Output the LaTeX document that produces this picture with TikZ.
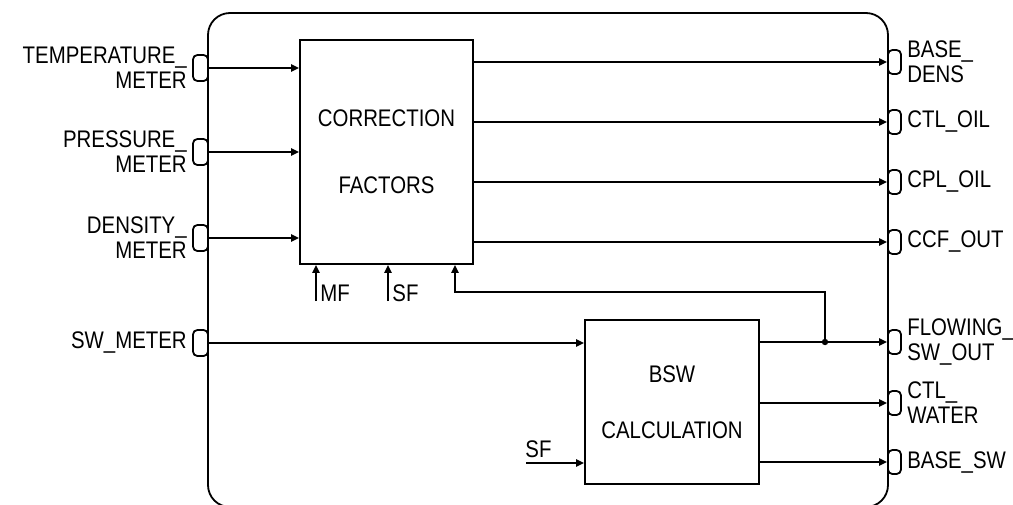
\documentclass[tikz,border=0pt]{standalone}
\usepackage{fontspec}
\setmainfont[FakeStretch=0.85]{Liberation Sans}
\usetikzlibrary{arrows.meta,positioning}

\begin{document}
\begin{tikzpicture}[x=0.5pt, y=-0.5pt, font=\fontsize{12}{12.5}\selectfont,
        sig/.style={line width=0.9pt, -{Triangle[length=4pt, width=3.6pt]}},
        block/.style={draw, line width=0.9pt, align=center, inner sep=0pt},
        inport/.style={draw, line width=0.9pt, rounded corners=2.2pt, inner sep=0pt,
            minimum width=7.5pt, minimum height=13pt},
        outport/.style={inport, minimum width=6.5pt, minimum height=12pt},
        portlbl/.style={inner sep=1.5pt}]
        \useasboundingbox (0,0) rectangle (1013,504);
        \fill[white] (0,0) rectangle (1013,504);
        \clip (0,0) rectangle (1013,504);

        \node[draw, line width=0.9pt, rounded corners=11pt, inner sep=0pt,
            minimum width=340pt, minimum height=247pt] (sys) at (548,260) {};

        \node[block, minimum width=86.5pt, minimum height=112pt] (cf) at (386.5,152)
            {CORRECTION\\[21pt]FACTORS};
        \node[block, minimum width=87pt, minimum height=82pt] (bsw) at (672,402)
            {BSW\\[15.5pt]CALCULATION};

        \node[inport] (tempin) at (200.5,68) {};
        \node[inport] (pressin) at (200.5,152) {};
        \node[inport] (densin) at (200.5,238) {};
        \node[inport] (swin) at (200.5,343) {};
        \node[portlbl, align=right, left=1pt of tempin] (templbl) {TEMPERATURE\_\\METER};
        \node[portlbl, align=right, left=1pt of pressin] (presslbl) {PRESSURE\_\\METER};
        \node[portlbl, align=right, left=1pt of densin] (denslbl) {DENSITY\_\\METER};
        \node[portlbl, left=1pt of swin] (swlbl) {SW\_METER};

        \node[outport] (basedens) at (894.5,62) {};
        \node[outport] (ctloil) at (894.5,122) {};
        \node[outport] (cploil) at (894.5,182) {};
        \node[outport] (ccfout) at (894.5,242) {};
        \node[outport] (flowout) at (894.5,342) {};
        \node[outport] (ctlwater) at (894.5,403) {};
        \node[outport] (basesw) at (894.5,462) {};
        \node[portlbl, align=left, right=1pt of basedens] (basedenslbl) {BASE\_\\DENS};
        \node[portlbl, right=1pt of ctloil] (ctloillbl) {CTL\_OIL};
        \node[portlbl, right=1pt of cploil] (cploillbl) {CPL\_OIL};
        \node[portlbl, right=1pt of ccfout] (ccfoutlbl) {CCF\_OUT};
        \node[portlbl, align=left, right=1pt of flowout] (flowoutlbl) {FLOWING\_\\SW\_OUT};
        \node[portlbl, align=left, right=1pt of ctlwater] (ctlwaterlbl) {CTL\_\\WATER};
        \node[portlbl, right=1pt of basesw] (baseswlbl) {BASE\_SW};

        \coordinate (mf) at (316,301);
        \coordinate (sfcf) at (388,301);
        \coordinate (sfbsw) at (526,463);
        \coordinate (jn) at (825,342);
        \coordinate (fb) at (455,292);
        \node[anchor=base west, inner sep=1pt] (mflbl) at (318,301) {MF};
        \node[anchor=base west, inner sep=1pt] (sfcflbl) at (390,301) {SF};
        \node[anchor=base west, inner sep=1pt] (sfbswlbl) at (523,457) {SF};

        \draw[sig] (tempin.east) -- (tempin.east -| cf.west);
        \draw[sig] (pressin.east) -- (pressin.east -| cf.west);
        \draw[sig] (densin.east) -- (densin.east -| cf.west);
        \draw[sig] (swin.east) -- (swin.east -| bsw.west);
        \draw[sig] (mf) -- (mf |- cf.south);
        \draw[sig] (sfcf) -- (sfcf |- cf.south);
        \draw[sig] (sfbsw) -- (sfbsw -| bsw.west);

        \draw[sig] (basedens.west -| cf.east) -- (basedens.west);
        \draw[sig] (ctloil.west -| cf.east) -- (ctloil.west);
        \draw[sig] (cploil.west -| cf.east) -- (cploil.west);
        \draw[sig] (ccfout.west -| cf.east) -- (ccfout.west);
        \draw[sig] (flowout.west -| bsw.east) -- (flowout.west);
        \draw[sig] (ctlwater.west -| bsw.east) -- (ctlwater.west);
        \draw[sig] (basesw.west -| bsw.east) -- (basesw.west);

        \fill (jn) circle[radius=1.6pt];
        \draw[sig] (jn) |- (fb) -- (fb |- cf.south);
    \end{tikzpicture}
\end{document}
